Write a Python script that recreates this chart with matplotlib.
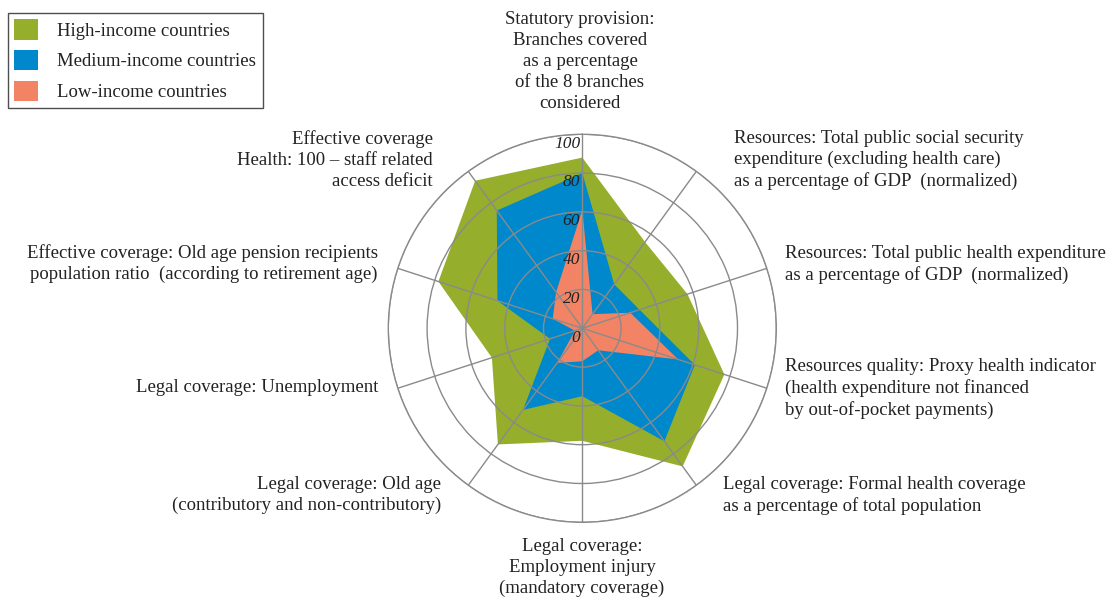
import numpy as np
import matplotlib
matplotlib.use("Agg")
import matplotlib.pyplot as plt
from matplotlib.patches import Patch

# values, clockwise from the top axis
categories = [
    "Statutory provision:\nBranches covered\nas a percentage\nof the 8 branches\nconsidered",
    "Resources: Total public social security\nexpenditure (excluding health care)\nas a percentage of GDP  (normalized)",
    "Resources: Total public health expenditure\nas a percentage of GDP  (normalized)",
    "Resources quality: Proxy health indicator\n(health expenditure not financed\nby out-of-pocket payments)",
    "Legal coverage: Formal health coverage\nas a percentage of total population",
    "Legal coverage:\nEmployment injury\n(mandatory coverage)",
    "Legal coverage: Old age\n(contributory and non-contributory)",
    "Legal coverage: Unemployment",
    "Effective coverage: Old age pension recipients\npopulation ratio  (according to retirement age)",
    "Effective coverage\nHealth: 100 \u2013 staff related\naccess deficit",
]
high = [88, 55, 57, 77, 88, 58, 74, 49, 78, 94]
medium = [80, 28, 31, 61, 72, 35, 52, 17.5, 46, 75]
low = [61, 9, 26, 52, 14, 17, 22, 4, 16, 23]
series_names = ["High-income countries", "Medium-income countries", "Low-income countries"]
colors = ["#95ae2c", "#0088cc", "#f28465"]
rticks = [0, 20, 40, 60, 80, 100]

# label anchor points in image pixels (x, y of first line), and alignment
label_pos = [
    (580, 11, "center"),
    (734, 130, "left"),
    (785, 245, "left"),
    (785, 358, "left"),
    (723, 476, "left"),
    (582, 538, "center"),
    (441, 476, "right"),
    (378, 379, "right"),
    (378, 244, "right"),
    (433, 130, "right"),
]

plt.rcParams["font.family"] = ["Liberation Serif", "DejaVu Serif"]

W, H = 1115, 599
fig = plt.figure(figsize=(W / 100, H / 100), dpi=100)

cx, cy, R = 582.3, 328.3, 194.0
ax = fig.add_axes([(cx - R) / W, (H - cy - R) / H, 2 * R / W, 2 * R / H], projection="polar")
ax.set_theta_zero_location("N")
ax.set_theta_direction(-1)

n = len(high)
angles = np.arange(n) * 2 * np.pi / n
for vals, col in zip([high, medium, low], colors):
    a = np.append(angles, angles[0])
    v = np.append(vals, vals[0])
    ax.fill(a, v, color=col, lw=0, zorder=1)

ax.set_ylim(0, 100)
ax.set_xticks(angles)
ax.set_xticklabels([])
ax.set_yticks(rticks[1:])
ax.set_yticklabels([])
ax.grid(True, color="#8a8a8a", lw=1.0)
ax.set_axisbelow(False)
ax.spines["polar"].set_color("#8a8a8a")
ax.spines["polar"].set_linewidth(1.0)
ax.patch.set_alpha(0)

for r in rticks:
    ax.annotate(str(r), xy=(0, r), xytext=(-1.5, -1), textcoords="offset points",
                ha="right", va="top", fontsize=12.5, style="italic", color="#222222", zorder=5)

for text, (x, y, ha) in zip(categories, label_pos):
    fig.text(x / W, 1 - y / H, text, ha=ha, va="top", fontsize=13.5,
             color="#222222", linespacing=1.3, multialignment=ha)

handles = [Patch(facecolor=c, edgecolor="none") for c in colors]
leg = fig.legend(handles, series_names, loc="upper left", bbox_to_anchor=(7.5 / W, 1 - 12.5 / H),
                 borderaxespad=0, fontsize=13.5, handlelength=1.3, handleheight=1.3,
                 handletextpad=1.0, labelspacing=0.55, borderpad=0.35, fancybox=False)
leg.get_frame().set_edgecolor("#222222")
leg.get_frame().set_linewidth(1.0)
for t in leg.get_texts():
    t.set_color("#222222")

fig.savefig("out.png", dpi=100)
